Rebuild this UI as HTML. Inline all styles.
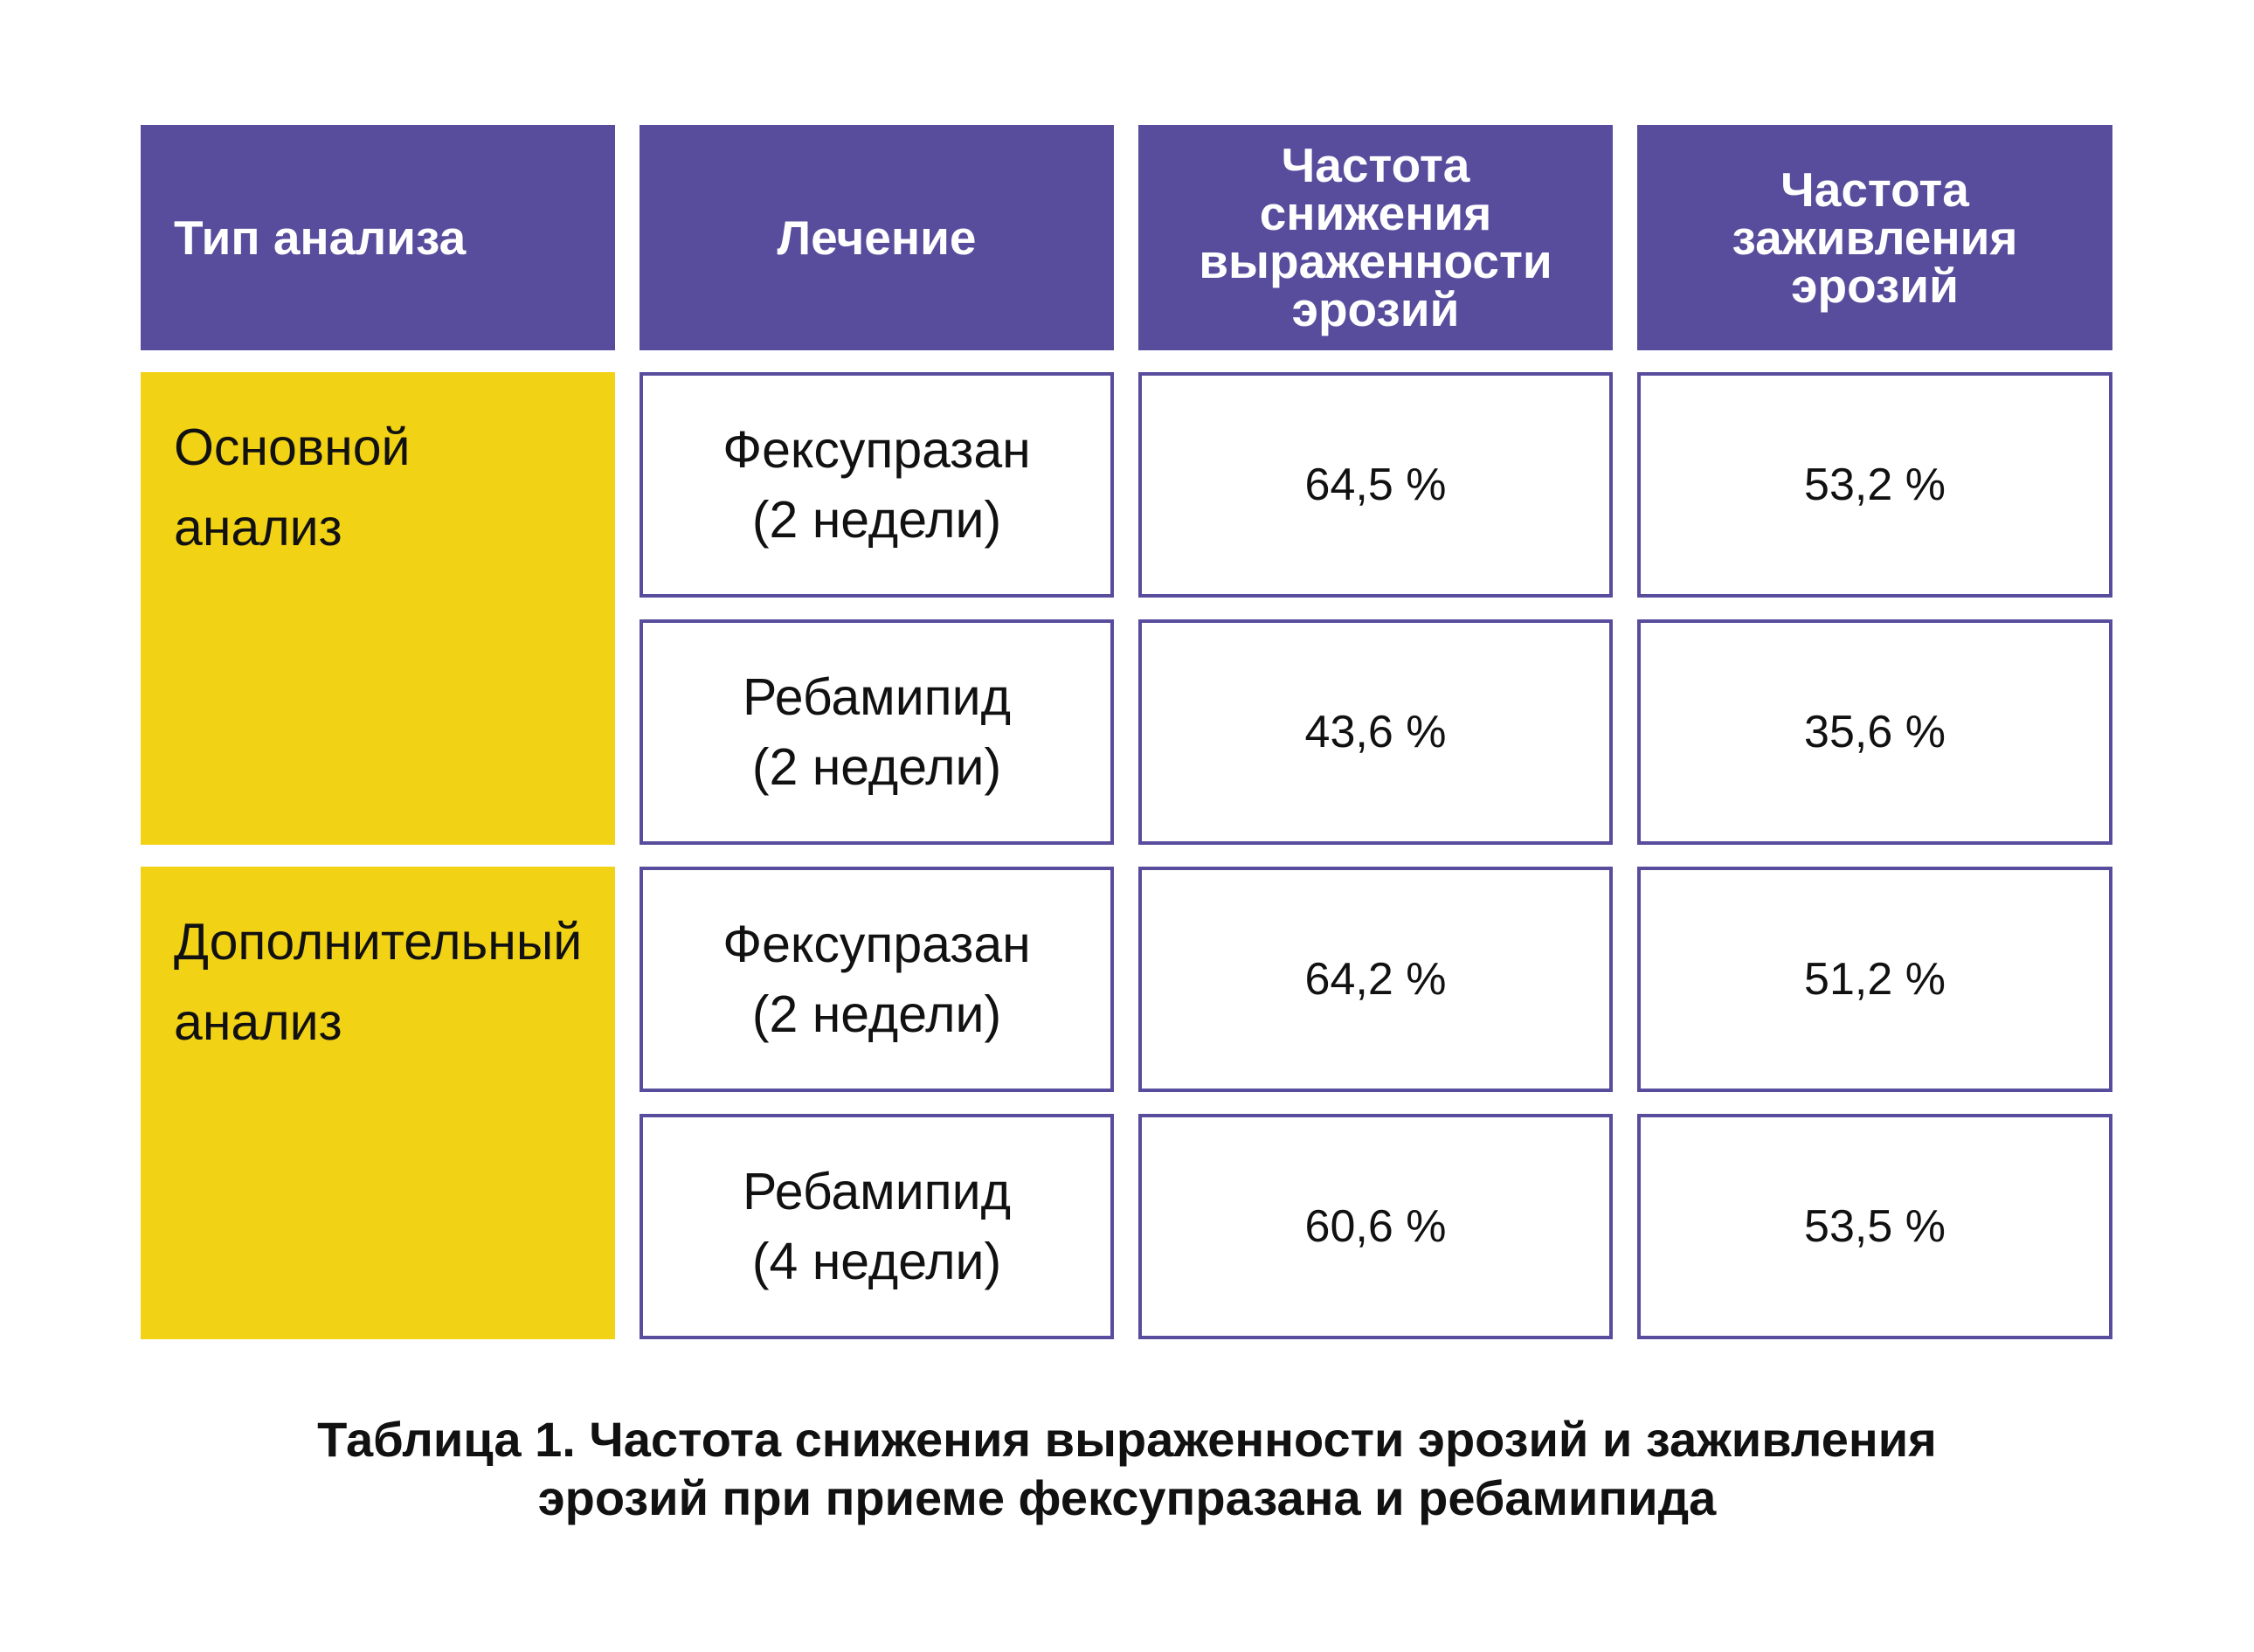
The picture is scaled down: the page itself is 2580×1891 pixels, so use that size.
<!DOCTYPE html>
<html><head><meta charset="utf-8"><style>
html,body{margin:0;padding:0;background:#fff;}
body{width:2580px;height:1891px;position:relative;overflow:hidden;font-family:"Liberation Sans","Noto Sans CJK SC",sans-serif;}
.c{position:absolute;box-sizing:border-box;display:flex;align-items:center;justify-content:center;text-align:center;}
.h{background:#584c9c;color:#fff;font-weight:bold;font-size:55px;line-height:55px;}
.y{background:#f2d215;color:#111;font-size:59px;line-height:92px;display:block;text-align:left;padding:40px 0 0 38px;}
.w{background:#fff;border:4px solid #584c9c;color:#111;font-size:59px;line-height:80px;}
.v{font-size:52px;}
.cap{position:absolute;left:0;width:2580px;text-align:center;font-weight:bold;font-size:56px;line-height:67px;top:1614px;color:#111;}
</style></head><body>
<div class="c h" style="left:161px;top:143px;width:543px;height:258px;justify-content:flex-start;padding-left:38px;">Тип анализа</div>
<div class="c h" style="left:732px;top:143px;width:543px;height:258px;">Лечение</div>
<div class="c h" style="left:1303px;top:143px;width:543px;height:258px;">Частота<br>снижения<br>выраженности<br>эрозий</div>
<div class="c h" style="left:1874px;top:143px;width:544px;height:258px;">Частота<br>заживления<br>эрозий</div>

<div class="c y" style="left:161px;top:426px;width:543px;height:541px;">Основной<br>анализ</div>
<div class="c y" style="left:161px;top:992px;width:543px;height:541px;">Дополнительный<br>анализ</div>

<div class="c w" style="left:732px;top:426px;width:543px;height:258px;">Фексупразан<br>(2 недели)</div>
<div class="c w" style="left:732px;top:709px;width:543px;height:258px;">Ребамипид<br>(2 недели)</div>
<div class="c w" style="left:732px;top:992px;width:543px;height:258px;">Фексупразан<br>(2 недели)</div>
<div class="c w" style="left:732px;top:1275px;width:543px;height:258px;">Ребамипид<br>(4 недели)</div>

<div class="c w v" style="left:1303px;top:426px;width:543px;height:258px;">64,5 %</div>
<div class="c w v" style="left:1303px;top:709px;width:543px;height:258px;">43,6 %</div>
<div class="c w v" style="left:1303px;top:992px;width:543px;height:258px;">64,2 %</div>
<div class="c w v" style="left:1303px;top:1275px;width:543px;height:258px;">60,6 %</div>

<div class="c w v" style="left:1874px;top:426px;width:544px;height:258px;">53,2 %</div>
<div class="c w v" style="left:1874px;top:709px;width:544px;height:258px;">35,6 %</div>
<div class="c w v" style="left:1874px;top:992px;width:544px;height:258px;">51,2 %</div>
<div class="c w v" style="left:1874px;top:1275px;width:544px;height:258px;">53,5 %</div>

<div class="cap">Таблица 1. Частота снижения выраженности эрозий и заживления<br>эрозий при приеме фексупразана и ребамипида</div>
</body></html>
